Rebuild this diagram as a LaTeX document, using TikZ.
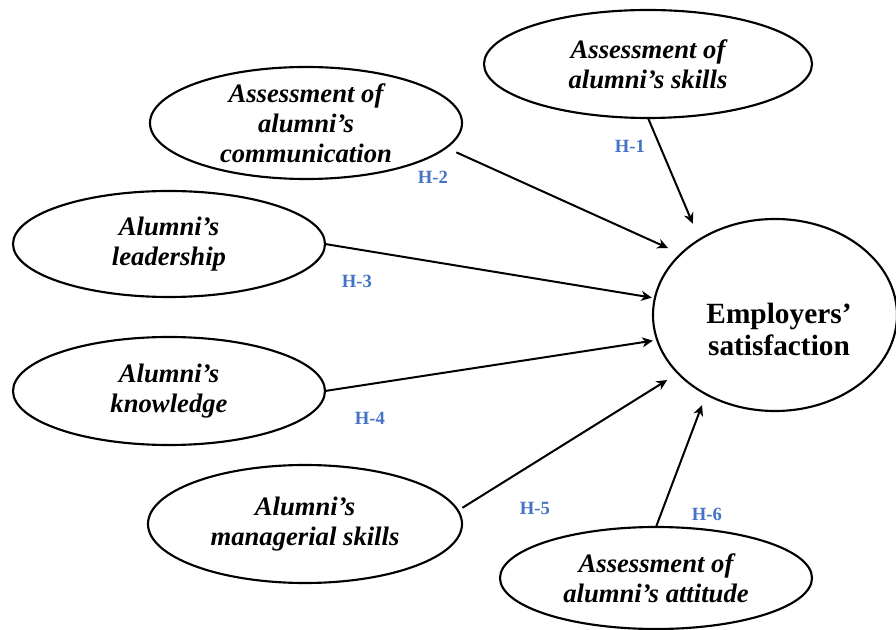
\documentclass[tikz,border=0pt]{standalone}
\usepackage{fontspec}
\setmainfont{Liberation Serif}
\usetikzlibrary{shapes.geometric,arrows.meta}

\definecolor{hypblue}{RGB}{68,114,196}

\tikzset{
  construct/.style={draw=black, line width=1.6pt, ellipse, inner sep=0pt, outer sep=0pt,
    align=center, font=\fontsize{20}{22.5}\selectfont\bfseries\itshape},
  outcome/.style={draw=black, line width=1.6pt, ellipse, inner sep=0pt, outer sep=0pt},
  outcometext/.style={align=center, font=\fontsize{22}{24}\selectfont\bfseries},
  hyp/.style={text=hypblue, font=\fontsize{14}{16}\selectfont\bfseries, inner sep=0pt},
  arr/.style={draw=black, line width=1.5pt, -{Stealth[length=8pt, width=7.5pt, inset=2.5pt]}}
}

\begin{document}
\begin{tikzpicture}[x=0.75pt, y=-0.75pt]
  \useasboundingbox (0,0) rectangle (896,630);

  % dependent construct
  \node[outcome, minimum width=183pt, minimum height=144pt] (es) at (775,315) {};
  \node[outcometext] (estext) at (779,329) {Employers’\\satisfaction};

  % explanatory constructs
  \node[construct, minimum width=246pt, minimum height=81pt] (s1) at (648,64)
    {Assessment of\\alumni’s skills};
  \node[construct, minimum width=234pt, minimum height=84pt] (s2) at (306,123)
    {Assessment of\\alumni’s\\communication};
  \node[construct, minimum width=234pt, minimum height=79.5pt] (s3) at (169,244)
    {Alumni’s\\leadership};
  \node[construct, minimum width=234pt, minimum height=81pt] (s4) at (169,391)
    {Alumni’s\\knowledge};
  \node[construct, minimum width=235.5pt, minimum height=88.5pt] (s5) at (305,524)
    {Alumni’s\\managerial skills};
  \node[construct, minimum width=234pt, minimum height=76.5pt] (s6) at (656,578)
    {Assessment of\\alumni’s attitude};

  % hypothesised paths
  \draw[arr, shorten >=13pt] (s1.south) -- (es.135);
  \draw[arr, shorten <=8.5pt, shorten >=10.6pt] (s2.350) -- (es.147);
  \draw[arr, shorten >=2.3pt] (s3.east) -- (es.172);
  \draw[arr, shorten >=3.3pt] (s4.east) -- (es.192);
  \draw[arr, shorten <=4pt, shorten >=9.6pt] (s5.5) -- (es.211);
  \draw[arr, shorten >=8.7pt] (s6.north) -- (es.229);

  % path labels
  \node[hyp] (h1) at (630,146) {H-1};
  \node[hyp] (h2) at (433,177) {H-2};
  \node[hyp] (h3) at (357,281) {H-3};
  \node[hyp] (h4) at (370,418) {H-4};
  \node[hyp] (h5) at (535,508) {H-5};
  \node[hyp] (h6) at (707,514) {H-6};
\end{tikzpicture}
\end{document}
